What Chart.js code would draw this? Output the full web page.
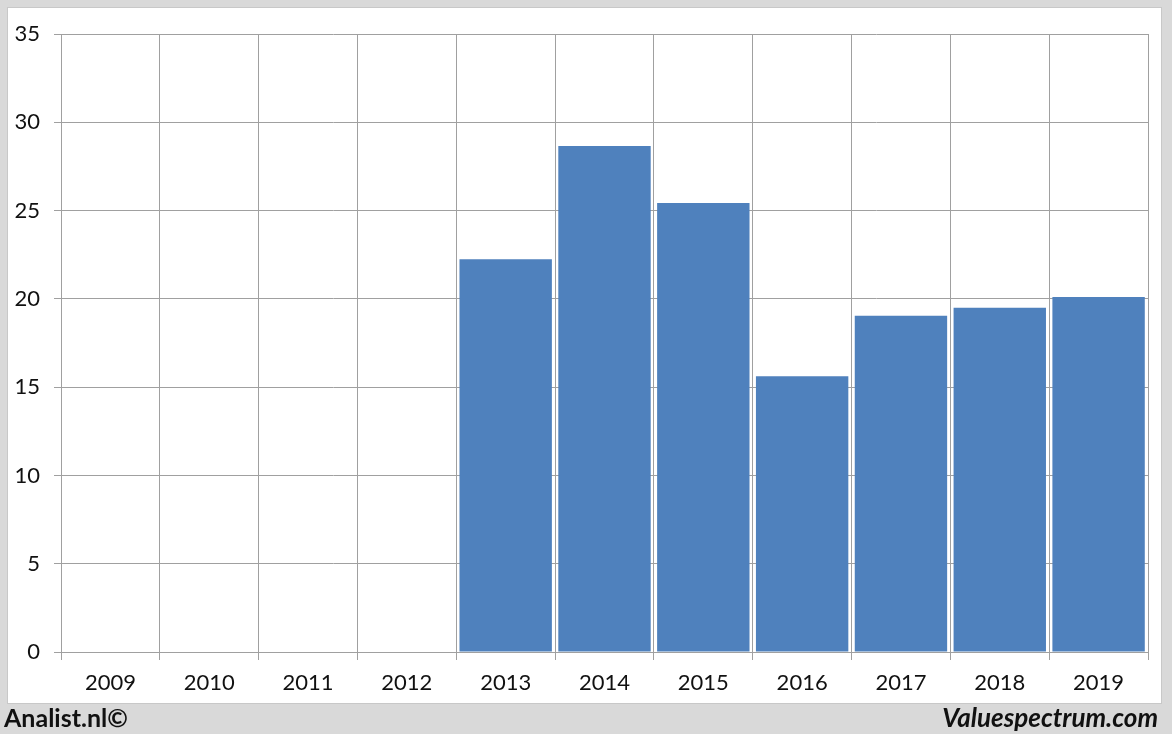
<!DOCTYPE html>
<html>
<head>
<meta charset="utf-8">
<script src="https://cdn.jsdelivr.net/npm/chart.js@4"></script>
<style>
html,body{margin:0;padding:0;background:#d9d9d9;}
#wrap{width:1172px;height:734px;position:relative;}
</style>
</head>
<body>
<div id="wrap"><canvas id="c" width="1172" height="734"></canvas></div>
<script>
const years = ['2009','2010','2011','2012','2013','2014','2015','2016','2017','2018','2019'];
const values = [null, null, null, null, 22.25, 28.65, 25.43, 15.62, 19.05, 19.5, 20.1];
const yTicks = [0, 5, 10, 15, 20, 25, 30, 35];

const FONT = 'Lato, "Open Sans", sans-serif';

const framePlugin = {
  id: 'frame',
  beforeDraw(chart) {
    const ctx = chart.ctx;
    ctx.save();
    ctx.fillStyle = '#d9d9d9';
    ctx.fillRect(0, 0, chart.width, chart.height);
    ctx.fillStyle = '#ffffff';
    ctx.fillRect(8, 8, 1153, 695);
    ctx.strokeStyle = '#c8c8c8';
    ctx.lineWidth = 1;
    ctx.strokeRect(7.5, 7.5, 1154, 696);
    ctx.restore();
  },
  afterDraw(chart) {
    const ctx = chart.ctx;
    ctx.save();
    ctx.fillStyle = '#111111';
    ctx.textBaseline = 'alphabetic';
    ctx.font = 'bold 25px ' + FONT;
    ctx.textAlign = 'left';
    ctx.fillText('Analist.nl©', 4, 727);
    ctx.font = 'italic bold 26px ' + FONT;
    ctx.textAlign = 'right';
    ctx.fillText('Valuespectrum.com', 1158, 727);
    ctx.restore();
  }
};

new Chart(document.getElementById('c'), {
  type: 'bar',
  data: {
    labels: years,
    datasets: [{
      data: values,
      backgroundColor: '#4f81bd',
      borderWidth: 0,
      categoryPercentage: 1.0,
      barPercentage: 0.935
    }]
  },
  options: {
    responsive: false,
    animation: false,
    devicePixelRatio: 1,
    layout: { padding: { left: 0, right: 24, top: 34, bottom: 34 } },
    plugins: { legend: { display: false }, tooltip: { enabled: false } },
    scales: {
      x: {
        offset: true,
        grid: { display: true, offset: true, color: '#a0a0a0', lineWidth: 1, tickLength: 8, drawOnChartArea: true },
        border: { display: true, color: '#a0a0a0' },
        ticks: { color: '#111', font: { family: FONT, size: 22 }, padding: 10, maxRotation: 0 },
        afterFit(s) { s.height = 48; }
      },
      y: {
        min: 0, max: 35,
        afterBuildTicks(s) { s.ticks = yTicks.map(v => ({ value: v })); },
        grid: { color: '#a0a0a0', lineWidth: 1, tickLength: 7 },
        border: { display: true, color: '#a0a0a0' },
        ticks: { color: '#111', font: { family: FONT, size: 22 }, padding: 14 },
        afterFit(s) { s.width = 61; }
      }
    }
  },
  plugins: [framePlugin]
});
</script>
</body>
</html>
